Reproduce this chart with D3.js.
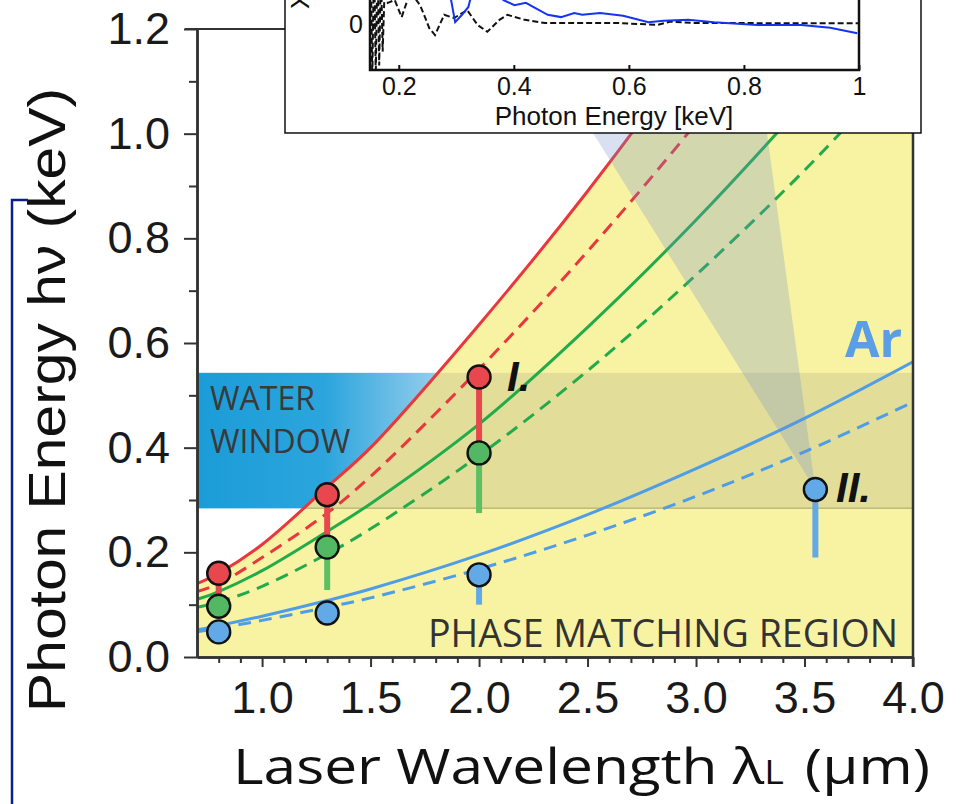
<!DOCTYPE html>
<html>
<head>
<meta charset="utf-8">
<script src="https://cdn.jsdelivr.net/npm/d3@7"></script>
<style>
  body { margin: 0; background: #fff; }
  svg { display: block; }
</style>
</head>
<body>
<svg id="chart" width="966" height="804"></svg>
<script>
// ---- Cutoff curves: wavelength grid (µm) and photon energies (keV) ----
const wavelengths   = [0.7, 0.8, 1.0, 1.3, 1.5, 2.0, 2.5, 3.0, 3.5, 4.0];
const heliumSolid   = [0.140, 0.160, 0.215, 0.325, 0.400, 0.635, 0.890, 1.170, 1.480, 1.820];
const heliumDashed  = [0.125, 0.140, 0.190, 0.275, 0.345, 0.550, 0.775, 1.020, 1.290, 1.590];
const neonSolid     = [0.110, 0.125, 0.165, 0.240, 0.293, 0.445, 0.630, 0.835, 1.060, 1.300];
const neonDashed    = [0.095, 0.105, 0.135, 0.197, 0.245, 0.385, 0.547, 0.730, 0.930, 1.150];
const argonSolid    = [0.052, 0.060, 0.078, 0.108, 0.130, 0.195, 0.272, 0.360, 0.456, 0.564];
const argonDashed   = [0.048, 0.055, 0.070, 0.095, 0.113, 0.168, 0.233, 0.307, 0.392, 0.487];

// ---- Measured cutoffs: [wavelength, energy, lower end of bar (or null)] ----
const heliumPoints = [[0.8, 0.160, 0.100], [1.3, 0.310, 0.210], [2.0, 0.535, 0.390]];
const neonPoints   = [[0.8, 0.097, null],  [1.3, 0.210, 0.128], [2.0, 0.390, 0.275]];
const argonPoints  = [[0.8, 0.048, null],  [1.3, 0.084, null],  [2.0, 0.157, 0.100], [3.55, 0.320, 0.190]];

// ---- Water window band (keV) ----
const waterWindow = [0.284, 0.543];

// ---- Axis ticks ----
const yMajorTicks = [0, 0.2, 0.4, 0.6, 0.8, 1.0, 1.2];
const yMinorTicks = [0.1, 0.3, 0.5, 0.7, 0.9, 1.1];
const xMajorTicks = [1.0, 1.5, 2.0, 2.5, 3.0, 3.5, 4.0];
const xMinorTicks = [0.8, 0.9, 1.1, 1.2, 1.3, 1.4, 1.6, 1.7, 1.8, 1.9, 2.1, 2.2, 2.3, 2.4,
                     2.6, 2.7, 2.8, 2.9, 3.1, 3.2, 3.3, 3.4, 3.6, 3.7, 3.8, 3.9];

// ---- Inset spectrum ----
const insetSpectrumEnergy = [0.27, 0.291, 0.298, 0.31, 0.321, 0.324, 0.35, 0.382, 0.401, 0.421, 0.44,
                             0.459, 0.482, 0.505, 0.519, 0.55, 0.59, 0.634, 0.66, 0.703, 0.748,
                             0.823, 0.9, 0.95, 0.997];
const insetSpectrumSignal = [1.2, 0.52, 0.04, 0.2, 0.37, 0.52, 1.0, 0.52, 0.41, 0.46, 0.33,
                             0.2, 0.15, 0.24, 0.2, 0.24, 0.18, 0.04, 0.07, 0.09, 0.04,
                             -0.02, -0.02, -0.08, -0.2];
const insetRefEnergy = [0.148, 0.151, 0.154, 0.157, 0.160, 0.163, 0.166, 0.169, 0.172, 0.176,
                        0.181, 0.193, 0.205, 0.22, 0.237, 0.244, 0.253, 0.263, 0.279, 0.296,
                        0.319, 0.337, 0.354, 0.375, 0.389, 0.419, 0.454, 0.512, 0.584, 0.65,
                        0.671, 0.715, 0.8, 0.9, 1.0];
const insetRefSignal = [-1.2, 1.5, -1.2, 1.5, -1.1, 1.4, -0.9, 1.2, -0.6, 1.0,
                        0.46, 0.52, 0.15, 0.7, 0.41, 0.2, -0.09, -0.24, 0.2, 0.13,
                        0.3, -0.02, -0.17, 0.09, 0.2, 0.09, 0.02, 0.02, 0.02, -0.02,
                        0.05, 0.02, 0.02, 0.015, 0.015];
const insetXTicks = [0.2, 0.4, 0.6, 0.8, 1.0];
// spectral window marked on the inset and linked to point II
const insetWedgeEnergies = [0.5376, 0.84];

// ---- Colours ----
const colHe = "#e8373d", colNe = "#22ab4a", colAr = "#4e9de6";
const fillHe = "#e8474e", fillNe = "#52b863", fillAr = "#62a9e8";

const svg = d3.select("#chart");
svg.append("rect").attr("width", 966).attr("height", 804).attr("fill", "#fff");

// Scales
const x = d3.scaleLinear().domain([0.7, 4.0]).range([197, 913]);
const y = d3.scaleLinear().domain([0, 1.2]).range([657, 29]);
const insetX = d3.scaleLinear().domain([0.15, 1.0]).range([370, 859]);
const insetY = d3.scaleLinear().domain([-1, 1]).range([70, -22]);

const zip = arr => wavelengths.map((w, i) => [w, arr[i]]);
const curve = d3.curveCatmullRom.alpha(0.5);
const line = d3.line().x(d => x(d[0])).y(d => y(d[1])).curve(curve);

const defs = svg.append("defs");
defs.append("clipPath").attr("id", "plotClip")
  .append("rect").attr("x", 197).attr("y", 29).attr("width", 716).attr("height", 628);

const heArea = d3.area().x(d => x(d[0])).y0(y(0)).y1(d => y(d[1])).curve(curve);
const heAbove = d3.area().x(d => x(d[0])).y0(y(1.2) - 400).y1(d => y(d[1])).curve(curve);
defs.append("clipPath").attr("id", "belowHe").append("path").attr("d", heArea(zip(heliumSolid)));
defs.append("clipPath").attr("id", "aboveHe").append("path").attr("d", heAbove(zip(heliumSolid)));

const grad = defs.append("linearGradient").attr("id", "waterGrad")
  .attr("gradientUnits", "userSpaceOnUse").attr("x1", 197).attr("x2", 455).attr("y1", 0).attr("y2", 0);
grad.append("stop").attr("offset", 0).attr("stop-color", "#1b9cd8");
grad.append("stop").attr("offset", 0.5).attr("stop-color", "#2ca5dd");
grad.append("stop").attr("offset", 1).attr("stop-color", "#a6d4ef");

const plot = svg.append("g").attr("clip-path", "url(#plotClip)");

// Phase matching region (below the He cutoff)
plot.append("path").attr("d", heArea(zip(heliumSolid))).attr("fill", "#f8f3a3");

// Water window band
const bandY0 = y(waterWindow[1]), bandY1 = y(waterWindow[0]);
plot.append("g").attr("clip-path", "url(#aboveHe)")
  .append("rect").attr("x", x(0.7)).attr("y", bandY0).attr("width", x(4.0) - x(0.7))
  .attr("height", bandY1 - bandY0).attr("fill", "url(#waterGrad)");
const bandOver = plot.append("g").attr("clip-path", "url(#belowHe)");
bandOver.append("rect").attr("x", x(0.7)).attr("y", bandY0).attr("width", x(4.0) - x(0.7))
  .attr("height", bandY1 - bandY0).attr("fill", "rgba(90,100,90,0.14)");
bandOver.append("line").attr("x1", x(0.7)).attr("x2", x(4.0)).attr("y1", bandY1).attr("y2", bandY1)
  .attr("stroke", "rgba(80,80,50,0.3)").attr("stroke-width", 1.5);

// Cutoff curves
const curves = [
  [argonDashed, colAr, true], [argonSolid, colAr, false],
  [neonDashed, colNe, true], [neonSolid, colNe, false],
  [heliumDashed, colHe, true], [heliumSolid, colHe, false]
];
curves.forEach(([vals, c, dashed]) => {
  plot.append("path").attr("d", line(zip(vals))).attr("fill", "none")
    .attr("stroke", c).attr("stroke-width", 3)
    .attr("stroke-dasharray", dashed ? "13,8" : null);
});

// Wedge linking point II to the inset window
const apex = argonPoints[3];
const wedgeTopY = 133;
plot.append("path")
  .attr("d", d3.line()([[x(apex[0]), y(apex[1])],
                        [insetX(insetWedgeEnergies[0]), wedgeTopY],
                        [insetX(insetWedgeEnergies[1]), wedgeTopY]]) + "Z")
  .attr("fill", "rgba(110,140,205,0.27)");

// Bars and markers
const barsColor = { he: "#e8474e", ne: "#5cc062", ar: "#62a9e8" };
const sets = [[heliumPoints, barsColor.he, fillHe], [neonPoints, barsColor.ne, fillNe], [argonPoints, barsColor.ar, fillAr]];
sets.forEach(([pts, bc]) => {
  pts.filter(p => p[2] !== null).forEach(p => {
    svg.append("line").attr("x1", x(p[0])).attr("x2", x(p[0]))
      .attr("y1", y(p[1])).attr("y2", y(p[2]))
      .attr("stroke", bc).attr("stroke-width", 6);
  });
});
sets.forEach(([pts, , fc]) => {
  svg.append("g").selectAll("circle").data(pts).join("circle")
    .attr("cx", d => x(d[0])).attr("cy", d => y(d[1])).attr("r", 11.5)
    .attr("fill", fc).attr("stroke", "#111").attr("stroke-width", 2.4);
});

// Axes
const axisStyle = g => {
  g.selectAll("path.domain").attr("stroke", "#333").attr("stroke-width", 2.5);
  g.selectAll(".tick line").attr("stroke", "#333").attr("stroke-width", 2);
  g.selectAll(".tick text").attr("font-family", "'Liberation Sans', Arial, sans-serif")
    .attr("font-size", 45).attr("fill", "#1a1a1a");
};
svg.append("g").attr("transform", "translate(197,0)")
  .call(d3.axisLeft(y).tickValues(yMajorTicks).tickSize(13).tickSizeOuter(0).tickPadding(14).tickFormat(d3.format(".1f")))
  .call(axisStyle);
svg.append("g").attr("transform", "translate(197,0)")
  .call(d3.axisLeft(y).tickValues(yMinorTicks).tickSize(8).tickSizeOuter(0).tickFormat(""))
  .call(axisStyle);
svg.append("g").attr("transform", "translate(0,657)")
  .call(d3.axisBottom(x).tickValues(xMajorTicks).tickSize(10).tickSizeOuter(0).tickPadding(14).tickFormat(d3.format(".1f")))
  .call(axisStyle);
svg.append("g").attr("transform", "translate(0,657)")
  .call(d3.axisBottom(x).tickValues(xMinorTicks).tickSize(6).tickSizeOuter(0).tickFormat(""))
  .call(axisStyle);
// frame
svg.append("line").attr("x1", 185).attr("x2", 913).attr("y1", 29).attr("y2", 29).attr("stroke", "#333").attr("stroke-width", 2);
svg.append("line").attr("x1", 913).attr("x2", 913).attr("y1", 29).attr("y2", 667).attr("stroke", "#333").attr("stroke-width", 2.5);

// In-plot annotations
const human = "'Open Sans', 'Noto Sans', sans-serif";
svg.append("text").attr("x", 210).attr("y", 410).text("WATER")
  .attr("font-family", human).attr("font-size", 32).attr("fill", "#3a3a3a");
svg.append("text").attr("x", 210).attr("y", 453).text("WINDOW")
  .attr("font-family", human).attr("font-size", 32).attr("fill", "#3a3a3a");
svg.append("text").attr("x", 428).attr("y", 647).text("PHASE MATCHING REGION")
  .attr("font-family", human).attr("font-size", 38).attr("fill", "#333")
  .attr("textLength", 470).attr("lengthAdjust", "spacingAndGlyphs");
svg.append("text").attr("x", 845).attr("y", 357).text("Ar")
  .attr("font-family", human).attr("font-weight", "bold").attr("font-size", 50).attr("fill", "#5a9fe6");
svg.append("text").attr("x", 507).attr("y", 391).text("I.")
  .attr("font-family", "'Liberation Sans', Arial, sans-serif").attr("font-weight", "bold")
  .attr("font-style", "italic").attr("font-size", 42).attr("fill", "#111");
svg.append("text").attr("x", 836).attr("y", 502).text("II.")
  .attr("font-family", "'Liberation Sans', Arial, sans-serif").attr("font-weight", "bold")
  .attr("font-style", "italic").attr("font-size", 42).attr("fill", "#111");

// Axis titles
svg.append("text").attr("transform", "translate(65,400) rotate(-90)")
  .attr("text-anchor", "middle").text("Photon Energy hν (keV)")
  .attr("font-family", "'Liberation Sans', Arial, sans-serif").attr("font-size", 52).attr("fill", "#111")
  .attr("textLength", 624).attr("lengthAdjust", "spacingAndGlyphs");
const xt = svg.append("text").attr("x", 233).attr("y", 784)
  .attr("font-family", human).attr("font-size", 50).attr("fill", "#111")
  .attr("textLength", 697).attr("lengthAdjust", "spacingAndGlyphs");
xt.append("tspan").text("Laser Wavelength λ");
xt.append("tspan").attr("font-size", 32).text("L");
xt.append("tspan").attr("dx", 18).text("(µm)");

// Frame line on the left margin
svg.append("path").attr("d", "M28,200 H12 V804").attr("fill", "none")
  .attr("stroke", "#0d1f8a").attr("stroke-width", 2.5);

// ---- Inset ----
const inset = svg.append("g");
inset.append("rect").attr("x", 285).attr("y", -3).attr("width", 636).attr("height", 136)
  .attr("fill", "#fff").attr("stroke", "#111").attr("stroke-width", 1.5);
defs.append("clipPath").attr("id", "insetClip")
  .append("rect").attr("x", 370).attr("y", -60).attr("width", 489).attr("height", 130);
const ip = inset.append("g").attr("clip-path", "url(#insetClip)");
const insetLine = d3.line().x(d => insetX(d[0])).y(d => insetY(d[1]));
ip.append("path").attr("d", insetLine(insetRefEnergy.map((e, i) => [e, insetRefSignal[i]])))
  .attr("fill", "none").attr("stroke", "#111").attr("stroke-width", 2).attr("stroke-dasharray", "6,3");
ip.append("path").attr("d", insetLine(insetSpectrumEnergy.map((e, i) => [e, insetSpectrumSignal[i]])))
  .attr("fill", "none").attr("stroke", "#1434f0").attr("stroke-width", 2);
// inset axes
inset.append("path").attr("d", "M370,-5 V70 H859 V-5").attr("fill", "none").attr("stroke", "#111").attr("stroke-width", 2.5);
const ixAxis = inset.append("g").attr("transform", "translate(0,70)")
  .call(d3.axisBottom(insetX).tickValues(insetXTicks).tickSize(-5).tickSizeOuter(0).tickPadding(7)
    .tickFormat(d => d === 1 ? "1" : d3.format(".1f")(d)));
ixAxis.select("path.domain").remove();
ixAxis.selectAll(".tick line").attr("stroke", "#111").attr("stroke-width", 2);
ixAxis.selectAll(".tick text").attr("font-family", "'Liberation Sans', Arial, sans-serif").attr("font-size", 25).attr("fill", "#111");
const iyAxis = inset.append("g").attr("transform", "translate(370,0)")
  .call(d3.axisLeft(insetY).tickValues([0]).tickSize(-5).tickSizeOuter(0).tickPadding(7).tickFormat(d3.format("d")));
iyAxis.select("path.domain").remove();
iyAxis.selectAll(".tick line").attr("stroke", "#111").attr("stroke-width", 2);
iyAxis.selectAll(".tick text").attr("font-family", "'Liberation Sans', Arial, sans-serif").attr("font-size", 25).attr("fill", "#111");
inset.append("text").attr("x", 614).attr("y", 125).attr("text-anchor", "middle").text("Photon Energy [keV]")
  .attr("font-family", "'Liberation Sans', Arial, sans-serif").attr("font-size", 26).attr("fill", "#111");
inset.append("text").attr("transform", "translate(309,9) rotate(-90)").text("X-ray yield (arb. u.)")
  .attr("font-family", "'Liberation Sans', Arial, sans-serif").attr("font-size", 25).attr("fill", "#111");
</script>
</body>
</html>
